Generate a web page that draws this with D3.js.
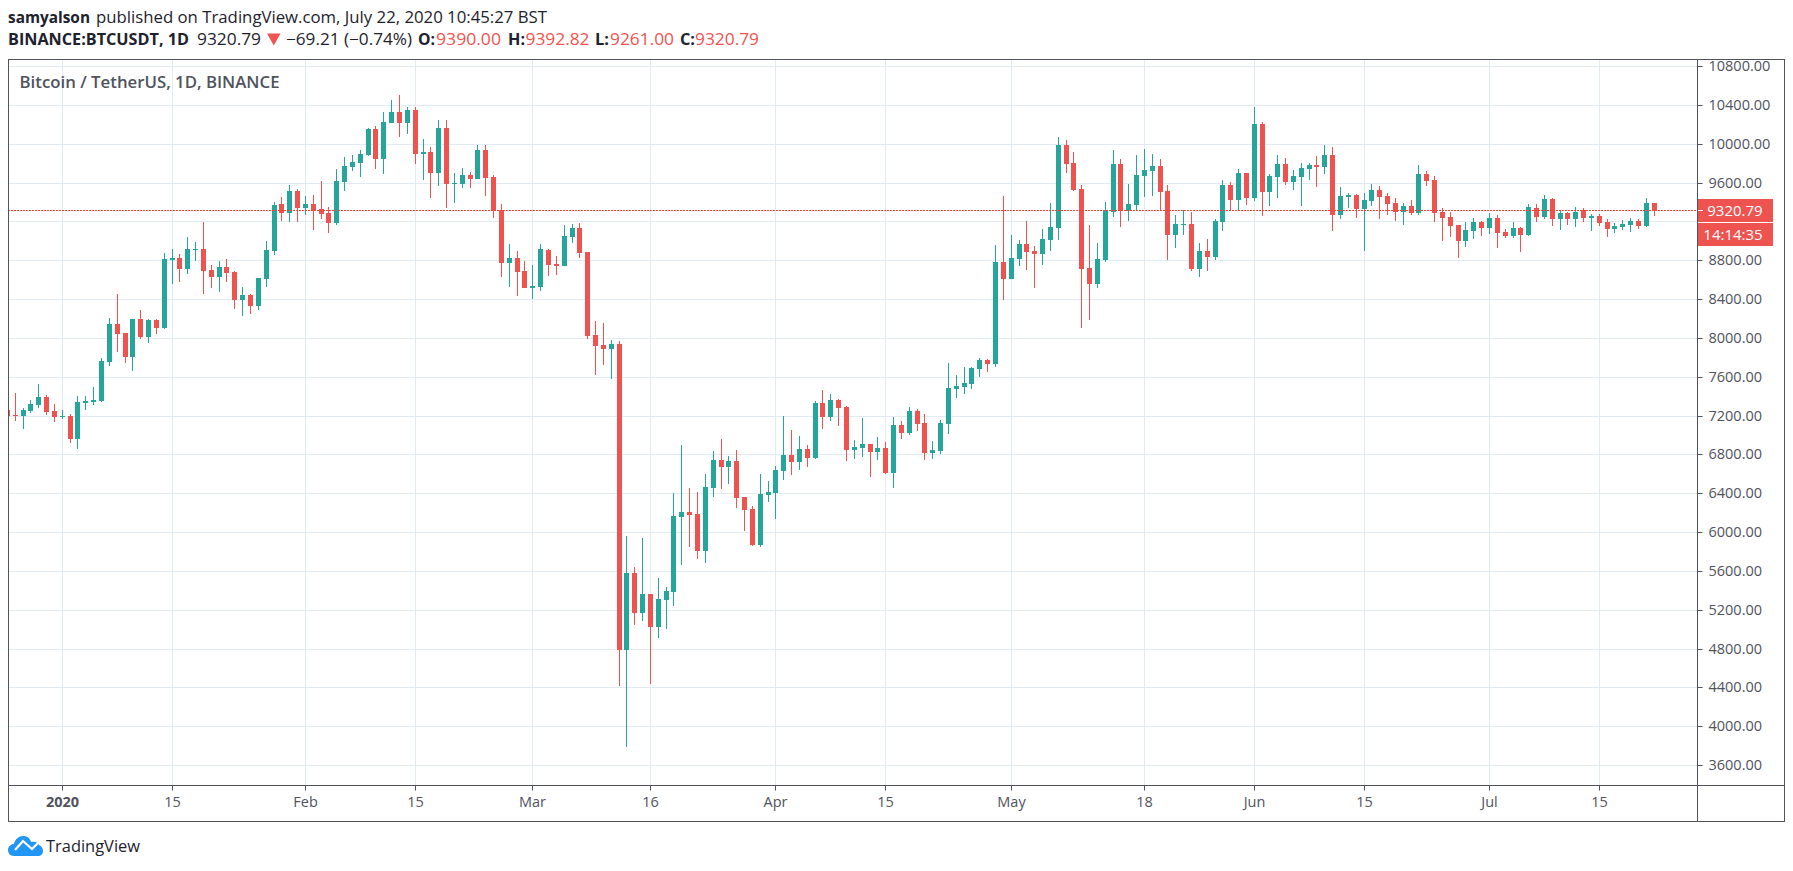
<!DOCTYPE html>
<html>
<head>
<meta charset="utf-8">
<title>BINANCE:BTCUSDT, 1D</title>
<script src="https://cdnjs.cloudflare.com/ajax/libs/d3/7.8.5/d3.min.js"></script>
<style>
html, body { margin: 0; padding: 0; background: #fff; }
svg { display: block; }
text { font-family: "Open Sans", "Noto Sans", sans-serif; }
</style>
</head>
<body>
<svg id="chart" width="1793" height="871"></svg>
<script>
var UP = '#26a69a', DOWN = '#ef5350', GRID = '#e1ecf2', INK = '#50535e', DARK = '#1e222d';

// open, high, low, close, one row per day from 2019-12-25
var ohlc = [
  [7260,7270,7130,7199],[7209,7436,7150,7199],[7199,7281,7065,7260],[7250,7363,7233,7322],[7312,7528,7281,7394],
  [7394,7415,7209,7240],[7250,7322,7137,7188],
  // Jan
  [7188,7260,7168,7197],[7199,7219,6920,6962],[6962,7405,6858,7343],[7332,7405,7260,7353],[7343,7497,7312,7363],
  [7353,7796,7343,7765],[7755,8208,7714,8147],[8147,8456,7858,8044],[8054,8054,7745,7807],[7807,8198,7662,8198],
  [8198,8291,7992,8013],[8013,8198,7951,8188],[8188,8198,8044,8105],[8105,8878,8095,8816],[8806,8920,8559,8827],
  [8827,8868,8579,8713],[8713,9043,8662,8920],[8909,8992,8796,8920],[8920,9198,8456,8693],[8703,8755,8518,8631],
  [8631,8796,8476,8734],[8734,8816,8579,8672],[8682,8693,8301,8394],[8394,8528,8229,8445],[8445,8456,8250,8332],
  [8332,8621,8291,8621],[8610,9002,8528,8909],[8899,9404,8858,9373],[9383,9455,9208,9290],[9290,9579,9198,9517],
  [9517,9538,9198,9342],
  // Feb
  [9342,9466,9270,9383],[9383,9476,9115,9321],[9332,9620,9229,9280],[9290,9352,9084,9187],[9187,9744,9167,9620],
  [9610,9868,9517,9775],[9765,9888,9723,9816],[9806,9940,9661,9898],[9888,10166,9878,10156],[10156,10187,9744,9847],
  [9847,10331,9692,10228],[10218,10455,10218,10331],[10331,10506,10074,10218],[10218,10383,10105,10352],
  [10352,10383,9795,9898],[9898,10053,9631,9919],[9919,9971,9445,9703],[9703,10249,9569,10166],[10166,10249,9342,9589],
  [9589,9703,9394,9600],[9589,9754,9548,9682],[9682,9713,9548,9641],[9641,9991,9641,9940],[9940,9991,9466,9651],
  [9661,9682,9239,9311],[9318,9383,8631,8775],[8775,8971,8528,8827],[8827,8899,8435,8682],[8693,8796,8518,8518],
  // Mar
  [8518,8755,8404,8538],[8528,8971,8487,8920],[8909,8920,8641,8755],[8765,8847,8652,8744],[8744,9167,8744,9053],
  [9043,9177,8981,9136],[9136,9187,8827,8878],[8889,8889,7992,8023],[8033,8178,7621,7920],[7930,8157,7724,7889],
  [7889,7982,7580,7941],[7941,7971,4414,4795],[4795,5967,3786,5586],[5586,5647,5050,5173],[5173,5946,5091,5369],
  [5369,5369,4442,5029],[5029,5534,4916,5318],[5307,5441,5008,5400],[5390,6410,5245,6173],[6163,6905,5668,6214],
  [6214,6461,5853,6183],[6194,6420,5730,5812],[5812,6606,5689,6472],[6461,6843,6369,6750],[6750,6966,6451,6678],
  [6678,6791,6503,6740],[6740,6853,6255,6358],[6369,6369,6018,6235],[6245,6276,5864,5874],[5874,6606,5853,6400],
  [6389,6534,6317,6420],
  // Apr
  [6410,6688,6142,6647],[6637,7203,6544,6802],[6802,7059,6595,6729],[6729,6997,6647,6863],[6863,6905,6678,6771],
  [6771,7353,6755,7332],[7332,7467,7065,7188],[7188,7425,7147,7363],[7363,7374,7096,7281],[7291,7302,6735,6848],
  [6848,6951,6755,6879],[6869,7178,6776,6910],[6910,6910,6570,6828],[6828,6982,6745,6869],[6869,6931,6601,6611],
  [6616,7193,6461,7111],[7111,7152,6966,7028],[7028,7296,7008,7255],[7255,7276,7049,7121],[7131,7224,6750,6822],
  [6822,6946,6760,6853],[6843,7162,6812,7131],[7121,7745,7018,7487],[7477,7621,7387,7508],[7497,7703,7427,7539],
  [7528,7703,7477,7693],[7683,7796,7600,7776],[7776,7786,7652,7734],[7734,8961,7703,8786],[8786,9466,8394,8610],
  // May
  [8610,9064,8610,8827],[8816,9012,8744,8971],[8971,9208,8703,8889],[8899,8950,8518,8868],[8868,9126,8755,9023],
  [9012,9394,8899,9146],[9136,10074,9012,9991],[9991,10043,9703,9795],[9806,9919,9517,9528],[9538,9579,8105,8713],
  [8724,9167,8188,8559],[8559,8981,8518,8816],[8806,9404,8786,9311],[9301,9940,9249,9795],[9795,9847,9146,9311],
  [9311,9589,9208,9383],[9373,9888,9311,9682],[9672,9950,9455,9734],[9723,9898,9466,9775],[9775,9847,9321,9507],
  [9517,9579,8806,9064],[9064,9270,8930,9177],[9167,9321,9064,9177],[9177,9301,8693,8713],[8713,8981,8631,8899],
  [8899,9023,8693,8837],[8837,9229,8806,9208],[9198,9631,9105,9579],[9579,9610,9311,9424],[9424,9744,9321,9703],
  [9703,9703,9373,9445],
  // Jun
  [9445,10383,9414,10208],[10208,10228,9260,9507],[9507,9692,9363,9672],[9661,9888,9445,9795],[9795,9857,9579,9610],
  [9610,9734,9528,9672],[9661,9806,9363,9754],[9744,9806,9631,9785],[9785,9878,9558,9765],[9765,9991,9692,9888],
  [9888,9971,9105,9270],[9270,9558,9229,9466],[9455,9497,9342,9476],[9476,9486,9239,9332],[9332,9497,8899,9424],
  [9414,9589,9363,9528],[9528,9569,9229,9455],[9466,9497,9270,9383],[9394,9445,9208,9301],[9301,9394,9167,9363],
  [9363,9424,9270,9290],[9290,9785,9270,9692],[9692,9723,9569,9620],[9631,9672,9198,9290],[9301,9342,9002,9239],
  [9249,9301,9043,9157],[9167,9167,8827,9002],[9002,9198,8940,9115],[9105,9239,9023,9198],[9198,9208,9053,9136],
  // Jul
  [9136,9290,9074,9239],[9239,9270,8930,9084],[9095,9126,9033,9053],[9053,9198,9033,9136],[9136,9146,8889,9064],
  [9064,9383,9053,9352],[9342,9383,9198,9249],[9249,9476,9229,9435],[9435,9445,9157,9229],[9229,9311,9115,9290],
  [9290,9301,9167,9229],[9229,9352,9146,9301],[9321,9342,9198,9239],[9239,9280,9105,9260],[9260,9280,9157,9187],
  [9198,9229,9043,9126],[9126,9187,9084,9157],[9146,9218,9115,9177],[9167,9239,9095,9208],[9208,9229,9126,9157],
  [9157,9445,9146,9394],[9390,9392.82,9261,9320.79]
];

var day0 = Date.UTC(2019, 11, 25);
var candles = ohlc.map(function(r, i) {
  return {date: new Date(day0 + i * 864e5), o: r[0], h: r[1], l: r[2], c: r[3]};
});
var last = candles[candles.length - 1];

var box = {left: 8, top: 59, right: 1697, bottom: 785};

var x = d3.scaleUtc()
  .domain([new Date(Date.UTC(2020, 0, 1)), new Date(Date.UTC(2020, 6, 15))])
  .range([62.3, 1599.3]);
var y = d3.scaleLinear().domain([3600, 10800]).range([765.5, 66.6]);

var dateTicks = [[0,1],[0,15],[1,1],[1,15],[2,1],[2,16],[3,1],[3,15],[4,1],[4,18],[5,1],[5,15],[6,1],[6,15]]
  .map(function(t) { return new Date(Date.UTC(2020, t[0], t[1])); });
var priceTicks = d3.range(3600, 10801, 400);

var svg = d3.select('#chart');

svg.append('defs').append('clipPath').attr('id', 'plot')
  .append('rect')
  .attr('x', box.left + 1).attr('y', box.top + 1)
  .attr('width', box.right - box.left - 1).attr('height', box.bottom - box.top - 1);

// grid
svg.append('g').selectAll('line').data(dateTicks).enter().append('line')
  .attr('x1', function(d) { return Math.floor(x(d)) + 0.5; })
  .attr('x2', function(d) { return Math.floor(x(d)) + 0.5; })
  .attr('y1', box.top).attr('y2', box.bottom)
  .attr('stroke', GRID);
svg.append('g').selectAll('line').data(priceTicks).enter().append('line')
  .attr('x1', box.left).attr('x2', box.right)
  .attr('y1', function(d) { return Math.floor(y(d)) + 0.5; })
  .attr('y2', function(d) { return Math.floor(y(d)) + 0.5; })
  .attr('stroke', GRID);

// candles
var marks = svg.append('g').attr('clip-path', 'url(#plot)').selectAll('g')
  .data(candles).enter().append('g')
  .attr('fill', function(d) { return d.c >= d.o ? UP : DOWN; });
marks.append('rect')
  .attr('x', function(d) { return Math.floor(x(d.date)); })
  .attr('width', 1)
  .attr('y', function(d) { return Math.round(y(d.h)); })
  .attr('height', function(d) { return Math.max(1, Math.round(y(d.l)) - Math.round(y(d.h))); });
marks.append('rect')
  .attr('x', function(d) { return Math.floor(x(d.date)) - 2; })
  .attr('width', 5)
  .attr('y', function(d) { return Math.round(y(Math.max(d.o, d.c))); })
  .attr('height', function(d) { return Math.max(1, Math.round(y(Math.min(d.o, d.c))) - Math.round(y(Math.max(d.o, d.c)))); });

// last price line
var lastY = Math.floor(y(last.c)) + 0.5;
svg.append('line')
  .attr('x1', box.left).attr('x2', box.right)
  .attr('y1', lastY).attr('y2', lastY)
  .attr('stroke', '#f44336')
  .attr('stroke-dasharray', '2 1');

// axes
var xAxis = svg.append('g').attr('transform', 'translate(0,' + (box.bottom + 0.5) + ')')
  .call(d3.axisBottom(x).tickValues(dateTicks).tickSize(5).tickPadding(6)
    .tickFormat(function(d) {
      if (d.getUTCDate() != 1) return d3.utcFormat('%-d')(d);
      return d.getUTCMonth() == 0 ? d3.utcFormat('%Y')(d) : d3.utcFormat('%b')(d);
    }));
xAxis.select('.domain').remove();
xAxis.selectAll('.tick').attr('transform', function(d) { return 'translate(' + (Math.floor(x(d)) + 0.5) + ',0)'; });
xAxis.selectAll('line').attr('stroke', INK);
xAxis.selectAll('text')
  .attr('fill', INK)
  .style('font-size', '14.5px')
  .style('font-weight', function(d) { return +d == Date.UTC(2020, 0, 1) ? 700 : 400; });

// the 9200 label sits under the price tags, so it stays empty
var yAxis = svg.append('g').attr('transform', 'translate(' + (box.right + 0.5) + ',0)')
  .call(d3.axisRight(y).tickValues(priceTicks).tickSize(5).tickPadding(6)
    .tickFormat(function(d) { return d == 9200 ? '' : d3.format('.2f')(d); }));
yAxis.select('.domain').remove();
yAxis.selectAll('.tick').attr('transform', function(d) { return 'translate(0,' + (Math.floor(y(d)) + 0.5) + ')'; });
yAxis.selectAll('line').attr('stroke', INK);
yAxis.selectAll('text').attr('fill', INK).style('font-size', '14.5px');

// frame
svg.append('rect').attr('x', box.left + 0.5).attr('y', box.top + 0.5)
  .attr('width', 1776).attr('height', 762)
  .attr('fill', 'none').attr('stroke', INK);
svg.append('line').attr('x1', box.left).attr('x2', 1785)
  .attr('y1', box.bottom + 0.5).attr('y2', box.bottom + 0.5).attr('stroke', INK);
svg.append('line').attr('x1', box.right + 0.5).attr('x2', box.right + 0.5)
  .attr('y1', box.top).attr('y2', 822).attr('stroke', INK);

// price and countdown tags
var tags = [{y: 199, text: d3.format('.2f')(last.c), cx: 1735}, {y: 223, text: '14:14:35', cx: 1733}];
svg.append('rect').attr('x', box.right + 1).attr('y', 222).attr('width', 75).attr('height', 1).attr('fill', '#fff');
svg.selectAll('.tag').data(tags).enter().append('rect').attr('class', 'tag')
  .attr('x', box.right + 1).attr('y', function(d) { return d.y; })
  .attr('width', 75).attr('height', 23).attr('fill', DOWN);
svg.selectAll('.tagText').data(tags).enter().append('text').attr('class', 'tagText')
  .attr('x', function(d) { return d.cx; }).attr('y', function(d) { return d.y + 16.5; })
  .attr('text-anchor', 'middle').attr('fill', '#fff')
  .style('font-size', '15px').text(function(d) { return d.text; });
svg.append('line').attr('x1', box.right + 1).attr('x2', box.right + 6)
  .attr('y1', lastY).attr('y2', lastY).attr('stroke', '#fff');

// header and chart title, [text, x, baseline, width, colour, weight, size]
var labels = [
  ['samyalson', 8, 23, 82, DARK, 700, 16],
  ['published on TradingView.com, July 22, 2020 10:45:27 BST', 96, 23, 451, DARK, 400, 16],
  ['BINANCE:BTCUSDT, 1D', 8, 45, 181, DARK, 700, 16],
  ['9320.79', 197, 45, 64, DARK, 400, 16],
  ['\u221269.21 (\u22120.74%)', 286, 45, 126, DARK, 400, 16],
  ['O:', 418, 45, 17, DARK, 700, 16],
  ['9390.00', 436, 45, 65, DOWN, 400, 16],
  ['H:', 508, 45, 17, DARK, 700, 16],
  ['9392.82', 525.5, 45, 64, DOWN, 400, 16],
  ['L:', 595, 45, 14, DARK, 700, 16],
  ['9261.00', 610, 45, 64, DOWN, 400, 16],
  ['C:', 680, 45, 15, DARK, 700, 16],
  ['9320.79', 695, 45, 64, DOWN, 400, 16],
  ['Bitcoin / TetherUS, 1D, BINANCE', 19.5, 88, 260, INK, 600, 16],
  ['TradingView', 46, 852, 94, DARK, 400, 17]
];
svg.append('g').selectAll('text').data(labels).enter().append('text')
  .attr('x', function(d) { return d[1]; })
  .attr('y', function(d) { return d[2]; })
  .attr('textLength', function(d) { return d[3]; })
  .attr('lengthAdjust', 'spacingAndGlyphs')
  .attr('fill', function(d) { return d[4]; })
  .style('font-weight', function(d) { return d[5]; })
  .style('font-size', function(d) { return d[6] + 'px'; })
  .text(function(d) { return d[0]; });

svg.append('path').attr('d', 'M267 33.5h13.5l-6.7 12z').attr('fill', DOWN);

// logo
svg.append('path')
  .attr('d', 'M14 856C10 856 8 853 8 850C8 846.500 11 844 14 844C15 839 19 836 23 836C27 836 30 838 31 842C34 841 38 842 39 845C42 846 43 849 43 851C43 854 41 856 38 856Z')
  .attr('fill', '#2196f3');
svg.append('path').attr('d', 'M15 850L23 841L32 849L39 842')
  .attr('fill', 'none').attr('stroke', '#fff').attr('stroke-width', 2.2);
</script>
</body>
</html>
